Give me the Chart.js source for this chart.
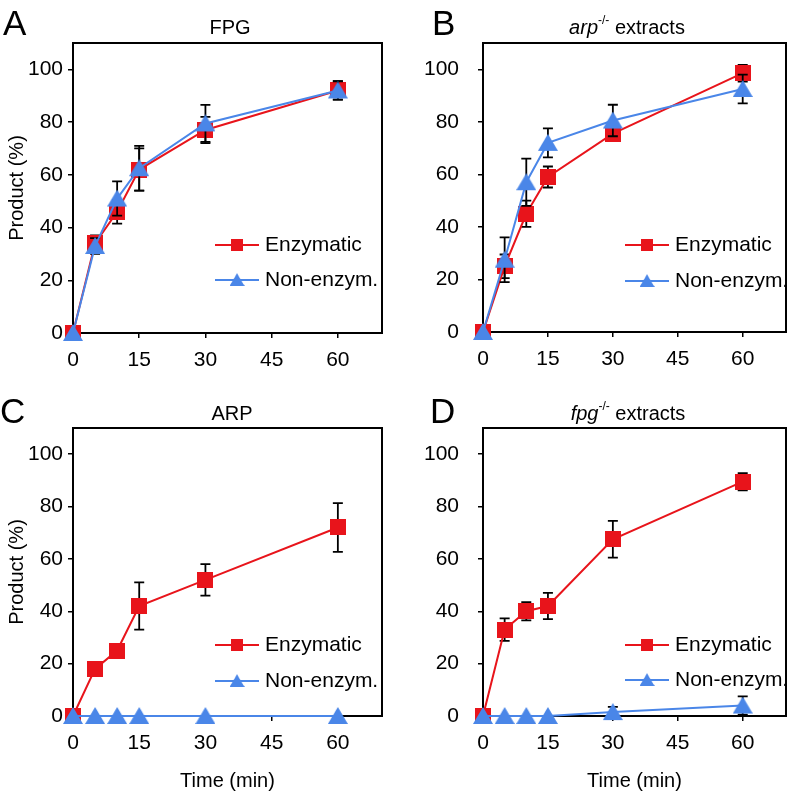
<!DOCTYPE html>
<html>
<head>
<meta charset="utf-8">
<script src="https://cdn.jsdelivr.net/npm/chart.js@4.4.1/dist/chart.umd.min.js"></script>
<style>
  body { margin: 0; background: #fff; font-family: 'Liberation Sans', Arial, sans-serif; }
  #fig { position: relative; width: 796px; height: 796px; overflow: hidden; }
  .cell { position: absolute; }
  .letter { position: absolute; font-size: 35px; line-height: 35px; color: #000; }
  .ttl { position: absolute; font-size: 20px; line-height: 20px; color: #000; white-space: nowrap; transform: translateX(-50%); }
  .ttl sup { font-size: 12px; line-height: 0; position: relative; top: -2px; }
</style>
</head>
<body>
<div id="fig">
  <div class="cell" style="left:0;top:0"><canvas id="cA" width="398" height="390"></canvas></div>
  <div class="cell" style="left:398px;top:0"><canvas id="cB" width="398" height="390"></canvas></div>
  <div class="cell" style="left:0;top:390px"><canvas id="cC" width="398" height="406"></canvas></div>
  <div class="cell" style="left:398px;top:390px"><canvas id="cD" width="398" height="406"></canvas></div>

  <div class="letter" style="left:3px;top:5px">A</div>
  <div class="letter" style="left:432px;top:5px">B</div>
  <div class="letter" style="left:0px;top:393px">C</div>
  <div class="letter" style="left:430px;top:393px">D</div>

  <div class="ttl" style="left:230px;top:17px">FPG</div>
  <div class="ttl" style="left:627px;top:17px"><i>arp</i><sup>-/-</sup> extracts</div>
  <div class="ttl" style="left:232px;top:403px">ARP</div>
  <div class="ttl" style="left:628px;top:403px"><i>fpg</i><sup>-/-</sup> extracts</div>
</div>

<script>
// time points and axis ticks
const timePoints = [0, 5, 10, 15, 30, 60];
const xTicks = [0, 15, 30, 45, 60];
const yTicks = [0, 20, 40, 60, 80, 100];
const seriesNames = ['Enzymatic', 'Non-enzym.'];

// A - FPG
const fpgEnz    = [0, 34, 46, 62, 77, 92];
const fpgEnzErr = [0, 3, 4.5, 8, 5, 3.5];
const fpgNon    = [0, 33, 51, 62.5, 79.5, 92];
const fpgNonErr = [0, 3, 6.5, 8.5, 7, 3.5];

// B - arp-/- extracts
const arpExtEnz    = [0, 25, 45, 59, 75.5, 98.5];
const arpExtEnzErr = [0, 4.5, 5, 4, 2.5, 3.2];
const arpExtNon    = [0, 27.5, 57, 72, 80.5, 92.5];
const arpExtNonErr = [0, 8.5, 9, 5.5, 6, 5.5];

// C - ARP
const arpEnz    = [0, 18, 25, 42, 52, 72];
const arpEnzErr = [0, 1, 1, 9, 6, 9.3];
const arpNon    = [0, 0, 0, 0, 0, 0];
const arpNonErr = [0, 0, 0, 0, 0, 0];

// D - fpg-/- extracts
const fpgExtEnz    = [0, 33, 40, 42, 67.5, 89.5];
const fpgExtEnzErr = [0, 4.3, 3.5, 5, 7, 3.3];
const fpgExtNon    = [0, 0, 0, 0, 1.5, 4];
const fpgExtNonErr = [0, 0, 0, 0, 2, 3.5];

const RED = '#e8141b';
const BLUE = '#4a86e8';
const FONT = "'Liberation Sans', Arial, sans-serif";
Chart.defaults.font.family = FONT;
Chart.defaults.color = '#000';

// marker images (used for plot points and legend)
function makeMarker(kind, color) {
    const c = document.createElement('canvas');
    const g = c.getContext('2d');
    if (kind === 'square') {
        c.width = 16; c.height = 16;
        g.fillStyle = color;
        g.fillRect(0, 0, 16, 16);
    } else {
        c.width = 20; c.height = 18;
        g.fillStyle = color;
        g.beginPath();
        g.moveTo(10, 0); g.lineTo(20, 17); g.lineTo(0, 17); g.closePath();
        g.fill();
    }
    return c;
}
const squareImg = makeMarker('square', RED);
const triImg = makeMarker('triangle', BLUE);

// black frame round the plot area
const frame = {
    id: 'frame',
    beforeDatasetsDraw(chart) {
        const a = chart.chartArea, ctx = chart.ctx;
        ctx.save();
        ctx.strokeStyle = '#000';
        ctx.lineWidth = 2;
        ctx.strokeRect(a.left, a.top, a.right - a.left, a.bottom - a.top);
        ctx.restore();
    }
};

// error bars, drawn under each dataset's own marks
const errBars = {
    id: 'errBars',
    beforeDatasetDraw(chart, args) {
        const ds = chart.data.datasets[args.index];
        const ys = chart.scales.y, ctx = chart.ctx;
        ctx.save();
        ctx.strokeStyle = '#000';
        ctx.lineWidth = 1.8;
        args.meta.data.forEach((pt, i) => {
            const e = ds.err[i];
            if (!e) return;
            const v = ds.data[i].y;
            const y1 = ys.getPixelForValue(v + e), y2 = ys.getPixelForValue(v - e);
            ctx.beginPath();
            ctx.moveTo(pt.x, y1); ctx.lineTo(pt.x, y2);
            ctx.moveTo(pt.x - 5, y1); ctx.lineTo(pt.x + 5, y1);
            ctx.moveTo(pt.x - 5, y2); ctx.lineTo(pt.x + 5, y2);
            ctx.stroke();
        });
        ctx.restore();
    }
};

// legend: short line with marker, then label
const lineLegend = {
    id: 'lineLegend',
    afterDatasetsDraw(chart, args, opts) {
        const a = chart.chartArea, ctx = chart.ctx;
        [0, 1].forEach(i => {
            const ds = chart.data.datasets[i];
            const y = a.bottom - opts.rows[i];
            const x0 = a.left + 142;
            ctx.save();
            ctx.strokeStyle = ds.borderColor;
            ctx.lineWidth = 2;
            ctx.beginPath(); ctx.moveTo(x0, y); ctx.lineTo(x0 + 44, y); ctx.stroke();
            const img = ds.pointStyle;
            const w = img.width * 0.75, h = img.height * 0.75;
            ctx.drawImage(img, x0 + 22 - w / 2, y - h / 2, w, h);
            ctx.fillStyle = '#000';
            ctx.font = '21px ' + FONT;
            ctx.textBaseline = 'middle';
            ctx.fillText(ds.label, x0 + 50, y);
            ctx.restore();
        });
    }
};

const panels = [
    { id: 'cA', enz: fpgEnz, enzErr: fpgEnzErr, non: fpgNon, nonErr: fpgNonErr,
      yTitle: true, xTitle: false, padTop: 43, padRight: 16, yW: 73, xH: 57, tickPad: 5, rows: [88, 53] },
    { id: 'cB', enz: arpExtEnz, enzErr: arpExtEnzErr, non: arpExtNon, nonErr: arpExtNonErr,
      yTitle: false, xTitle: false, padTop: 43, padRight: 8, yW: 85, xH: 58, tickPad: 19, rows: [87, 51] },
    { id: 'cC', enz: arpEnz, enzErr: arpEnzErr, non: arpNon, nonErr: arpNonErr,
      yTitle: true, xTitle: true, padTop: 38, padRight: 16, yW: 73, xH: 80, tickPad: 5, rows: [71, 35] },
    { id: 'cD', enz: fpgExtEnz, enzErr: fpgExtEnzErr, non: fpgExtNon, nonErr: fpgExtNonErr,
      yTitle: false, xTitle: true, padTop: 38, padRight: 8, yW: 85, xH: 80, tickPad: 19, rows: [71, 36] }
];

panels.forEach(p => {
    const tickGrid = { drawOnChartArea: false, drawTicks: true, tickLength: 5, color: '#000', lineWidth: 1.5 };
    new Chart(document.getElementById(p.id), {
        type: 'line',
        data: {
            datasets: [
                {
                    label: seriesNames[0],
                    data: timePoints.map((t, i) => ({ x: t, y: p.enz[i] })),
                    err: p.enzErr,
                    borderColor: RED, backgroundColor: RED, borderWidth: 2,
                    pointStyle: squareImg, pointRadius: 8, order: 1, clip: false
                },
                {
                    label: seriesNames[1],
                    data: timePoints.map((t, i) => ({ x: t, y: p.non[i] })),
                    err: p.nonErr,
                    borderColor: BLUE, backgroundColor: BLUE, borderWidth: 2,
                    pointStyle: triImg, pointRadius: 8, order: 0, clip: false
                }
            ]
        },
        options: {
            animation: false,
            responsive: false,
            devicePixelRatio: 1,
            layout: { padding: { top: p.padTop, right: p.padRight, left: 0, bottom: 0 } },
            plugins: {
                legend: { display: false },
                tooltip: { enabled: false },
                lineLegend: { rows: p.rows }
            },
            scales: {
                x: {
                    type: 'linear', min: 0, max: 70,
                    afterBuildTicks: s => { s.ticks = xTicks.map(v => ({ value: v })); },
                    afterFit: s => { s.height = p.xH; },
                    grid: tickGrid,
                    border: { display: false },
                    ticks: { color: '#000', font: { size: 21 }, padding: 10, maxRotation: 0 },
                    title: { display: p.xTitle, text: 'Time (min)', color: '#000', font: { size: 20 }, padding: { top: 0, bottom: 3 } }
                },
                y: {
                    type: 'linear', min: 0, max: 110,
                    afterBuildTicks: s => { s.ticks = yTicks.map(v => ({ value: v })); },
                    afterFit: s => { s.width = p.yW; },
                    grid: tickGrid,
                    border: { display: false },
                    ticks: { color: '#000', font: { size: 21 }, padding: p.tickPad },
                    title: { display: p.yTitle, text: 'Product (%)', color: '#000', font: { size: 20 }, padding: { top: 5, bottom: 0 } }
                }
            }
        },
        plugins: [frame, errBars, lineLegend]
    });
});
</script>
</body>
</html>
